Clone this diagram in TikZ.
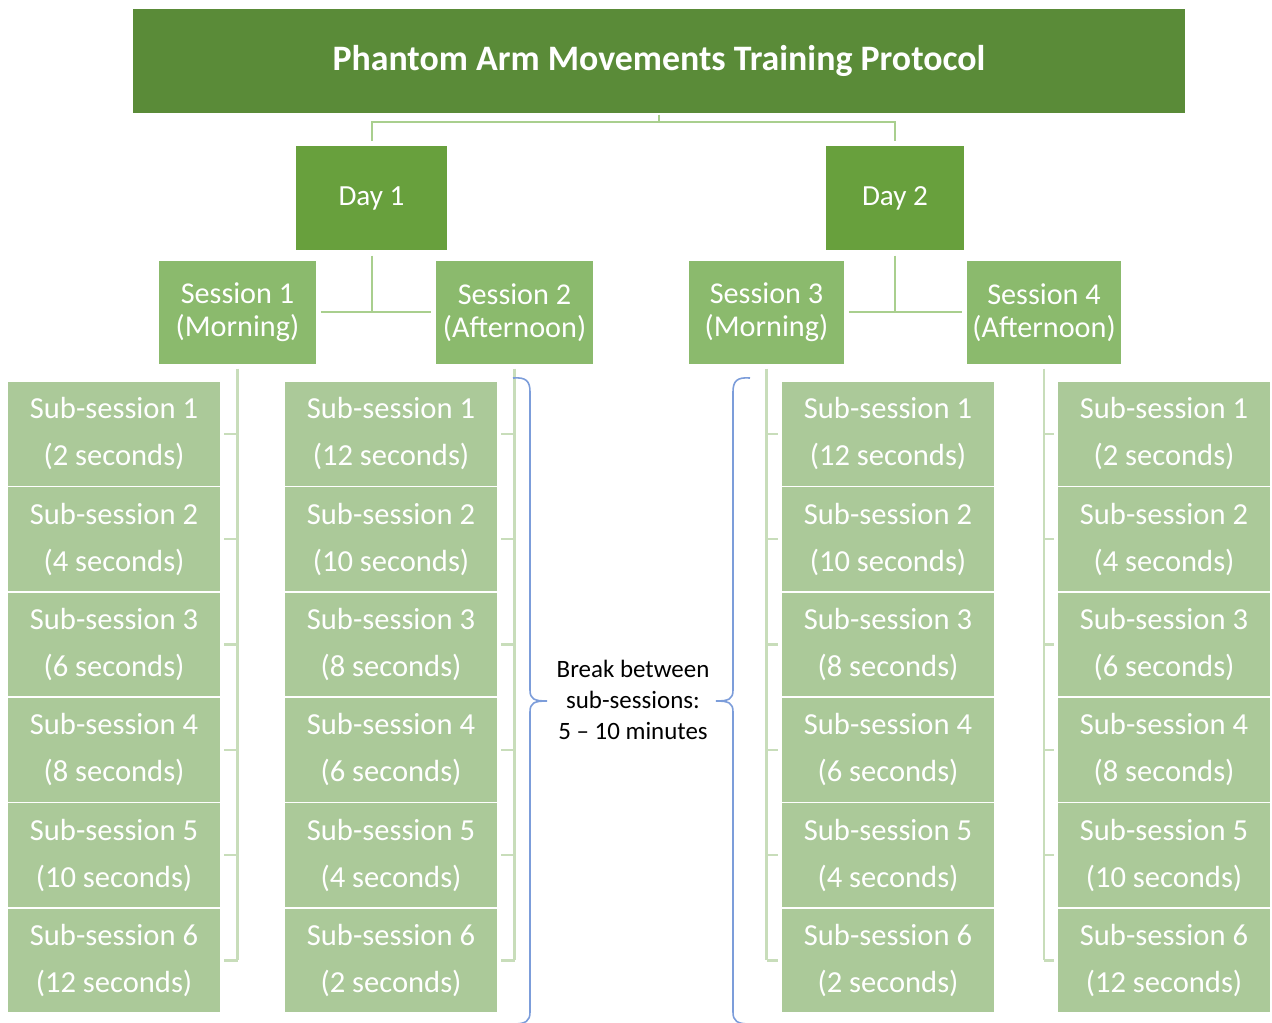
\documentclass[tikz,border=0pt]{standalone}
\usepackage{fontspec}
\setmainfont{Carlito}

\definecolor{titlegreen}{HTML}{5A8B38}
\definecolor{daygreen}{HTML}{68A03D}
\definecolor{sessgreen}{HTML}{8BBA6D}
\definecolor{subgreen}{HTML}{ABC999}
\definecolor{linkgreen}{HTML}{A9CF8E}
\definecolor{sublinkgreen}{HTML}{C8DDBA}
\definecolor{braceblue}{HTML}{7C9DDA}

\newlength{\pxu}\setlength{\pxu}{0.02cm}

\tikzset{
  box/.style={draw=white, line width=1.5\pxu, text=white, inner sep=0pt, align=center},
  titlebox/.style={box, fill=titlegreen, minimum width=1054\pxu, minimum height=106\pxu,
    font=\bfseries\fontsize{20.4}{24}\selectfont},
  daybox/.style={box, fill=daygreen, minimum height=106\pxu, font=\fontsize{16.6}{20}\selectfont},
  sessbox/.style={box, fill=sessgreen, minimum height=105\pxu, font=\fontsize{17.2}{18.7}\selectfont},
  subbox/.style={box, fill=subgreen, minimum width=214\pxu, minimum height=105\pxu,
    font=\fontsize{17.4}{26.6}\selectfont},
  link/.style={draw=linkgreen, line width=2\pxu},
  sublink/.style={draw=sublinkgreen, line width=2.5\pxu},
  bracket/.style={draw=braceblue, line width=1.6\pxu}
}

\begin{document}
\begin{tikzpicture}[x=1\pxu, y=-1\pxu]
  \useasboundingbox (0,0) rectangle (1272,1023);

  % title
  \node[titlebox] (title) at (659,61) {Phantom Arm Movements Training Protocol};

  % days
  \node[daybox, minimum width=153\pxu] (day1) at (371.5,198) {Day 1};
  \node[daybox, minimum width=140\pxu] (day2) at (895,198) {Day 2};

  % sessions
  \node[sessbox, minimum width=159\pxu] (s1) at (237.5,312.5) {Session 1\\(Morning)};
  \node[sessbox, minimum width=159\pxu] (s2) at (514.5,312.5) {Session 2\\(Afternoon)};
  \node[sessbox, minimum width=157\pxu] (s3) at (766.5,312.5) {Session 3\\(Morning)};
  \node[sessbox, minimum width=156\pxu] (s4) at (1044,312.5) {Session 4\\(Afternoon)};

  % sub-sessions
  \foreach \col/\x/\secs in {1/114/{2,4,6,8,10,12}, 2/391/{12,10,8,6,4,2},
                             3/888/{12,10,8,6,4,2}, 4/1164/{2,4,6,8,10,12}}{
    \foreach \t [count=\r] in \secs {
      \node[subbox] (sub\col-\r) at (\x, {380+105.33*\r-51.5}) {Sub-session \r\\(\t{} seconds)};
    }
  }

  % links title - days - sessions
  \coordinate (tj) at (659,122);
  \draw[link] (title.south) -- (tj);
  \draw[link, shorten <=3\pxu, shorten >=3\pxu] (day1.north) |- (tj) -| (day2.north);
  \draw[link, shorten <=4\pxu] (day1.south) -- (day1.south |- s1.east);
  \draw[link, shorten <=3\pxu, shorten >=3\pxu] (s1.east) -- (s2.west);
  \draw[link, shorten <=4\pxu] (day2.south) -- (day2.south |- s3.east);
  \draw[link, shorten <=3\pxu, shorten >=3\pxu] (s3.east) -- (s4.west);

  % links sessions - sub-sessions
  \foreach \col/\s in {1/s1, 2/s2, 3/s3, 4/s4}{
    \draw[sublink, shorten <=3\pxu] (\s.south) -- (\s.south |- sub\col-6.center);
    \foreach \r in {1,...,6}{
      \draw[sublink, shorten >=2\pxu] (\s.south |- sub\col-\r.center) -- (sub\col-\r);
    }
  }

  % break between sub-sessions
  \draw[bracket] (513,378) .. controls (526,377) and (530,381) .. (530,392)
    -- (530,690) .. controls (530,699) and (534,701) .. (547,701)
    .. controls (534,701) and (530,703) .. (530,712)
    -- (530,1012) .. controls (530,1021) and (526,1024) .. (513,1024);
  \draw[bracket] (750,378) .. controls (737,377) and (733,381) .. (733,392)
    -- (733,690) .. controls (733,699) and (729,701) .. (716,701)
    .. controls (729,701) and (733,703) .. (733,712)
    -- (733,1012) .. controls (733,1021) and (737,1024) .. (750,1024);
  \node[font=\fontsize{14.2}{17.6}\selectfont, align=center] (brk) at (633,700)
    {Break between\\sub-sessions:\\5 -- 10 minutes};
\end{tikzpicture}
\end{document}
